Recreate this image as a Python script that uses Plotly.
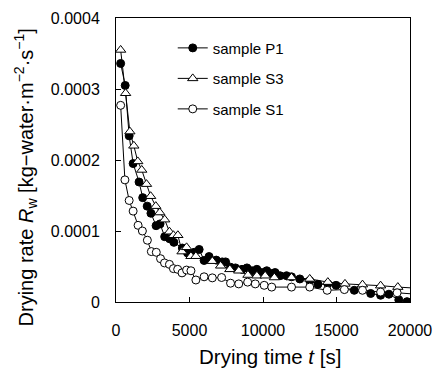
import plotly.graph_objects as go

# Sample P1 (filled circles)
p1_t = [316, 626, 896, 1165, 1569, 1818, 2121, 2377, 2727, 2997, 3313, 3650, 3939,
        4512, 4869, 5320, 5657, 5993, 6330, 6822, 7226, 7455, 7792, 8128, 8573, 8909,
        9246, 9583, 9919, 10256, 10592, 10821, 11158, 11603, 11939, 12505, 13178,
        13737, 14410, 14970, 16209, 17327, 18000, 18566, 19239, 19798]
p1_r = [3.36e-4, 3.05e-4, 2.34e-4, 1.95e-4, 1.69e-4, 1.47e-4, 1.35e-4, 1.25e-4,
        1.075e-4, 1.10e-4, 0.92e-4, 0.89e-4, 0.84e-4, 0.76e-4, 0.69e-4, 0.70e-4,
        0.74e-4, 0.585e-4, 0.64e-4, 0.59e-4, 0.565e-4, 0.565e-4, 0.49e-4, 0.48e-4,
        0.46e-4, 0.48e-4, 0.44e-4, 0.46e-4, 0.415e-4, 0.44e-4, 0.40e-4, 0.415e-4,
        0.37e-4, 0.37e-4, 0.355e-4, 0.325e-4, 0.30e-4, 0.25e-4, 0.255e-4, 0.235e-4,
        0.165e-4, 0.12e-4, 0.095e-4, 0.11e-4, 0.03e-4, 0.005e-4]

# Sample S3 (open triangles)
s3_t = [316, 653, 943, 1212, 1481, 1751, 2074, 2357, 2707, 2976, 3313, 3636, 3906,
        4209, 4492, 4801, 5098, 5434, 6552, 7118, 7744, 8350, 8977, 9583, 10148,
        10774, 11939, 13178, 14410, 15576, 16768, 18000, 19172, 20400]
s3_r = [3.55e-4, 2.94e-4, 2.40e-4, 2.20e-4, 1.98e-4, 1.86e-4, 1.66e-4, 1.49e-4,
        1.35e-4, 1.26e-4, 1.16e-4, 0.99e-4, 0.94e-4, 0.94e-4, 0.71e-4, 0.77e-4,
        0.645e-4, 0.645e-4, 0.575e-4, 0.51e-4, 0.46e-4, 0.44e-4, 0.38e-4, 0.37e-4,
        0.37e-4, 0.345e-4, 0.345e-4, 0.325e-4, 0.28e-4, 0.255e-4, 0.245e-4, 0.23e-4,
        0.21e-4, 0.195e-4]

# Sample S1 (open circles)
s1_t = [316, 606, 896, 1165, 1502, 1796, 2134, 2404, 2741, 3030, 3300, 3636, 3906,
        4195, 4492, 4801, 5098, 5434, 5993, 6552, 7185, 7792, 8350, 8956, 9475,
        10081, 10592, 11939, 13178, 14365, 15535, 16768, 18000, 19125, 20400]
s1_r = [2.77e-4, 1.72e-4, 1.43e-4, 1.28e-4, 1.08e-4, 1.00e-4, 0.87e-4, 0.71e-4,
        0.70e-4, 0.61e-4, 0.55e-4, 0.53e-4, 0.47e-4, 0.46e-4, 0.41e-4, 0.45e-4,
        0.44e-4, 0.31e-4, 0.355e-4, 0.34e-4, 0.345e-4, 0.265e-4, 0.255e-4, 0.28e-4,
        0.255e-4, 0.235e-4, 0.21e-4, 0.21e-4, 0.21e-4, 0.165e-4, 0.175e-4, 0.165e-4,
        0.14e-4, 0.13e-4, 0.11e-4]

x_ticks = [0, 5000, 10000, 15000, 20000]
x_tick_labels = ["0", "5000", "10000", "15000", "20000"]
y_ticks = [0, 0.0001, 0.0002, 0.0003, 0.0004]
y_tick_labels = ["0", "0.0001", "0.0002", "0.0003", "0.0004"]

FONT = "Liberation Sans, Arial, sans-serif"

fig = go.Figure()
fig.add_trace(go.Scatter(
    x=p1_t, y=p1_r, name="sample P1", mode="lines+markers", legendgroup="a",
    line=dict(color="black", width=1),
    marker=dict(symbol="circle", size=8, color="black", line=dict(color="black", width=1))))
fig.add_trace(go.Scatter(
    x=s3_t, y=s3_r, name="sample S3", mode="lines+markers", legendgroup="b",
    line=dict(color="black", width=1),
    marker=dict(symbol="triangle-up", size=9, color="white", line=dict(color="black", width=1))))
fig.add_trace(go.Scatter(
    x=s1_t, y=s1_r, name="sample S1", mode="lines+markers", legendgroup="c",
    line=dict(color="black", width=1),
    marker=dict(symbol="circle", size=8, color="white", line=dict(color="black", width=1))))

fig.update_layout(
    width=442, height=381,
    margin=dict(l=116, r=29, t=10, b=79),
    paper_bgcolor="white", plot_bgcolor="white",
    font=dict(family=FONT, color="black", size=16),
    showlegend=True,
    legend=dict(x=0.193, y=0.952, xanchor="left", yanchor="top",
                bgcolor="rgba(0,0,0,0)", borderwidth=0,
                font=dict(size=15, family=FONT), itemwidth=30,
                tracegroupgap=8),
    xaxis=dict(range=[0, 20000], tickvals=x_ticks, ticktext=x_tick_labels,
               ticks="inside", ticklen=5, tickcolor="black", tickwidth=1,
               showline=True, linecolor="black", linewidth=1, mirror=True,
               showgrid=False, zeroline=False, ticklabelstandoff=14,
               tickfont=dict(size=16)),
    yaxis=dict(range=[0, 0.0004], tickvals=y_ticks, ticktext=y_tick_labels,
               ticks="inside", ticklen=5, tickcolor="black", tickwidth=1,
               showline=True, linecolor="black", linewidth=1, mirror=True,
               showgrid=False, zeroline=False, ticklabelstandoff=12,
               tickfont=dict(size=16)),
    annotations=[
        dict(text="Drying time <i>t</i> [s]", xref="paper", yref="paper",
             x=(272 - 116) / 297, y=-(358 - 302) / 292, showarrow=False,
             xanchor="center", yanchor="middle", font=dict(size=20.5, family=FONT)),
        dict(text="Drying rate <i>R</i><sub>w</sub> [kg−water·m<sup>−2</sup>·s<sup>−1</sup>]",
             xref="paper", yref="paper", textangle=-90,
             x=-(116 - 25) / 297, y=(302 - 174) / 292, showarrow=False,
             xanchor="center", yanchor="middle", font=dict(size=20, family=FONT)),
    ],
)

fig.write_html("out.html")
